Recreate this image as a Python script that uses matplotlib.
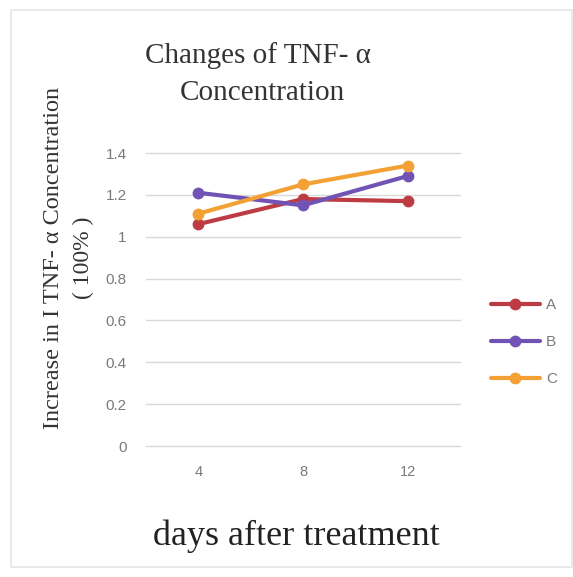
import numpy as np
import matplotlib
matplotlib.use("Agg")
import matplotlib.pyplot as plt

# 데이터
days = ["4", "8", "12"]
series_a = [1.06, 1.18, 1.17]
series_b = [1.21, 1.15, 1.29]
series_c = [1.11, 1.25, 1.34]
y_ticks = [0, 0.2, 0.4, 0.6, 0.8, 1.0, 1.2, 1.4]
y_tick_labels = ["0", "0.2", "0.4", "0.6", "0.8", "1", "1.2", "1.4"]

colors = {"A": "#bd3c43", "B": "#7153b5", "C": "#f3a035"}
serif = ["Liberation Serif", "DejaVu Serif"]
sans = ["Liberation Sans", "DejaVu Sans"]

fig = plt.figure(figsize=(5.73, 5.77), dpi=100)
fig.patch.set_facecolor("white")

# 바깥 테두리 (연한 회색)
fig.add_artist(plt.Rectangle((11 / 573, 10 / 577), 1 - 11 / 573 - 0.002, 1 - 20 / 577,
                             transform=fig.transFigure, fill=False,
                             edgecolor="#e6e6e6", lw=1.2))

ax = fig.add_axes([146 / 573, 131 / 577, 314 / 573, 293 / 577])
x = np.arange(len(days))
for name, vals in [("A", series_a), ("B", series_b), ("C", series_c)]:
    ax.plot(x, vals, color=colors[name], lw=3.0, marker="o", ms=7.5,
            solid_capstyle="round", label=name)

ax.set_xlim(-0.5, len(days) - 0.5)
ax.set_ylim(0, 1.4)
ax.set_xticks(x)
ax.set_xticklabels(days, family=sans, fontsize=10.5, color="#7a7a7a")
ax.set_yticks(y_ticks)
ax.set_yticklabels(y_tick_labels, family=sans, fontsize=11, color="#7a7a7a")
ax.tick_params(length=0)
ax.tick_params(axis="y", pad=14)
ax.tick_params(axis="x", pad=14)
ax.grid(axis="y", color="#d9d9d9", lw=1)
for gl in ax.get_ygridlines():
    gl.set_clip_on(False)
ax.set_axisbelow(True)
for s in ax.spines.values():
    s.set_visible(False)

fig.text(258 / 573, 1 - 56 / 577, "Changes of TNF- α", ha="center", va="center",
         family=serif, fontsize=21, color="#333333")
fig.text(262 / 573, 1 - 93 / 577, "Concentration", ha="center", va="center",
         family=serif, fontsize=21, color="#333333")

fig.text(296 / 573, 1 - 536 / 577, "days after treatment", ha="center", va="center",
         family=serif, fontsize=26, color="#222222")

fig.text(54 / 573, 1 - 258 / 577, "Increase in I TNF- α Concentration", rotation=90,
         ha="center", va="center", family=serif, fontsize=17.5, color="#333333")
fig.text(83 / 573, 1 - 258 / 577, "( 100% )", rotation=90,
         ha="center", va="center", family=serif, fontsize=17, color="#333333")

leg = ax.legend(loc="center left", bbox_to_anchor=(491 / 573, 1 - 342 / 577),
                bbox_transform=fig.transFigure, frameon=False,
                prop={"family": sans, "size": 11}, handlelength=3.2,
                handletextpad=0.4, labelspacing=1.5, borderpad=0, borderaxespad=0)
for t in leg.get_texts():
    t.set_color("#7a7a7a")

fig.savefig("out.png", dpi=100)
